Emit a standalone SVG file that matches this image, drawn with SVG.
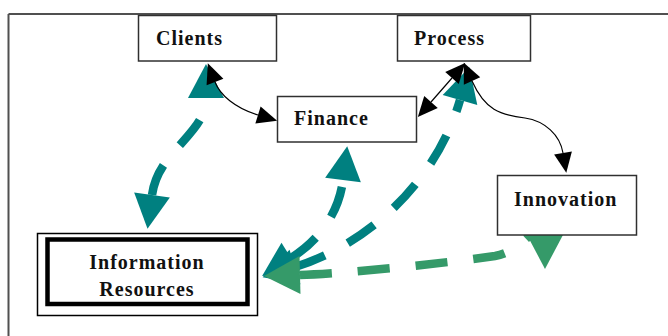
<svg xmlns="http://www.w3.org/2000/svg" width="668" height="336" viewBox="0 0 668 336">
  <style>
    .frame { stroke: #505050; stroke-width: 2; fill: none; }
    .box { fill: #ffffff; stroke: #303030; stroke-width: 1.5; }
    .label { font-family: "Liberation Serif", "Times New Roman", serif; font-weight: bold; font-size: 20px; letter-spacing: 1px; fill: #111111; }
    .flow { fill: none; stroke-width: 8.5; stroke-dasharray: 32 26; stroke-linecap: butt; }
    .teal { stroke: #008080; }
    .green { stroke: #359a69; }
    .link { fill: none; stroke: #000000; stroke-width: 1.2; }
  </style>
  <defs>
    <marker id="head-teal" markerUnits="userSpaceOnUse" viewBox="0 0 34 36" markerWidth="34" markerHeight="36" refX="0" refY="18" orient="auto-start-reverse" overflow="visible">
      <path d="M0,0 L34,18 L0,36 Z" fill="#008080"/>
    </marker>
    <marker id="head-green" markerUnits="userSpaceOnUse" viewBox="0 0 36 38" markerWidth="36" markerHeight="38" refX="0" refY="19" orient="auto-start-reverse" overflow="visible">
      <path d="M0,0 L36,19 L0,38 Z" fill="#359a69"/>
    </marker>
    <marker id="head-black" markerUnits="userSpaceOnUse" viewBox="0 0 20 18" markerWidth="20" markerHeight="18" refX="0" refY="9" orient="auto-start-reverse" overflow="visible">
      <path d="M0,0 L20,9 L0,18 Z" fill="#000000"/>
    </marker>
  </defs>

  <rect width="668" height="336" fill="#ffffff"/>

  <!-- page frame: top and left edges -->
  <path class="frame" d="M8.5,14 H668 M8.5,14 V336"/>

  <g id="connectors">
    <!-- thick dashed information flows -->
    <path class="flow teal" d="M152,195 C158,150 206,135 206,98" marker-start="url(#head-teal)" marker-end="url(#head-teal)"/>
    <path class="flow teal" d="M291,258 C320,240 339,212 343,180" marker-start="url(#head-teal)" marker-end="url(#head-teal)"/>
    <path class="flow teal" d="M295,267 C380,240 440,170 460,100" marker-start="url(#head-teal)" marker-end="url(#head-teal)"/>
    <path class="flow green" d="M300,275 C340,274 440,264 495,256 C530,250 545,205 545,233" marker-start="url(#head-green)" marker-end="url(#head-green)"/>
    <!-- thin links -->
    <path class="link" d="M215,82 C220,95 235,108 258,115" marker-start="url(#head-black)" marker-end="url(#head-black)"/>
    <path class="link" d="M452,78 L431,102" marker-start="url(#head-black)" marker-end="url(#head-black)"/>
    <path class="link" d="M472,81 C485,110 500,115 525,118 C545,121 560,135 563,153" marker-start="url(#head-black)" marker-end="url(#head-black)"/>
  </g>

  <g id="clients">
    <rect class="box" x="138.5" y="15.5" width="138" height="45.5"/>
    <text class="label" x="156" y="45">Clients</text>
  </g>

  <g id="process">
    <rect class="box" x="397.5" y="15.5" width="133" height="45.5"/>
    <text class="label" x="414" y="45">Process</text>
  </g>

  <g id="finance">
    <rect class="box" x="277.5" y="96.5" width="139" height="45.5"/>
    <text class="label" x="294" y="125">Finance</text>
  </g>

  <g id="innovation">
    <rect class="box" x="497.5" y="175.5" width="139" height="59.5"/>
    <text class="label" x="514" y="206">Innovation</text>
  </g>

  <g id="information-resources">
    <rect x="37.5" y="233.5" width="220" height="82" fill="#ffffff" stroke="#000000" stroke-width="1.5"/>
    <rect x="47.5" y="239.5" width="200" height="64.5" fill="#ffffff" stroke="#000000" stroke-width="4.5"/>
    <text class="label" x="147" y="269" text-anchor="middle">Information</text>
    <text class="label" x="147" y="296" text-anchor="middle">Resources</text>
  </g>
</svg>
